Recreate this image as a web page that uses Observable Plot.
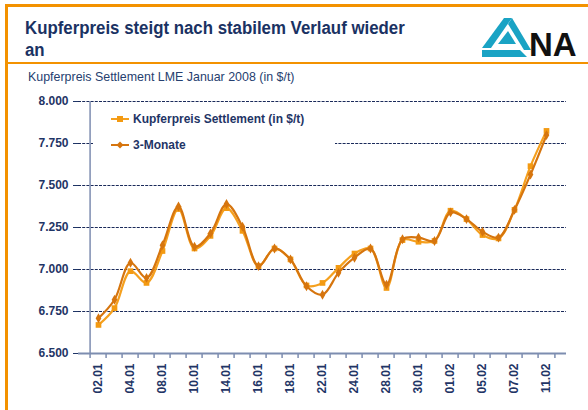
<!DOCTYPE html>
<html>
<head>
<meta charset="utf-8">
<script src="https://cdn.jsdelivr.net/npm/d3@7"></script>
<script src="https://cdn.jsdelivr.net/npm/@observablehq/plot@0.6"></script>
<style>
  html, body { margin: 0; padding: 0; background: #fff; }
  #page { position: relative; width: 588px; height: 410px; overflow: hidden; background: #fff; font-family: "Liberation Sans", Arial, sans-serif; }
  .bar { position: absolute; background: #f39200; }
  #title { position: absolute; left: 25px; top: 17px; font-size: 18px; font-weight: bold; color: #1a3263; line-height: 22px; white-space: nowrap; transform-origin: 0 0; transform: scaleX(0.935); }
  #subtitle { position: absolute; left: 28px; top: 69px; font-size: 13.5px; color: #26406f; white-space: nowrap; transform-origin: 0 0; transform: scaleX(0.92); }
  #chart { position: absolute; left: 0; top: 70px; }
  #legend { position: absolute; left: 93px; top: 108px; width: 242px; height: 50px; background: #fff; }
  .li { position: absolute; left: 18px; height: 14px; display: flex; align-items: center; font-size: 12px; font-weight: bold; color: #1f3566; white-space: nowrap; }
  .li svg { margin-right: 2px; }
  #logo { position: absolute; left: 478px; top: 14px; }
  #logotext { position: absolute; left: 529px; top: 28px; font-size: 33px; line-height: 33px; font-weight: bold; color: #111; white-space: nowrap; }
</style>
</head>
<body>
<div id="page">
  <div class="bar" style="left:5px; top:4px; width:583px; height:3px;"></div>
  <div class="bar" style="left:5px; top:4px; width:3px; height:406px;"></div>
  <div class="bar" style="left:5px; top:62px; width:583px; height:2px;"></div>
  <div id="title">Kupferpreis steigt nach stabilem Verlauf wieder<br>an</div>
  <svg id="logo" width="56" height="46" viewBox="0 0 56 46">
    <polygon points="26,4 34,4 13,34 4,34" fill="#1aa3c4"/>
    <polygon points="4,36 42,36 49,43 4,43" fill="#1aa3c4"/>
    <polygon points="34,4 53,36 46,36 30,10" fill="#1aa3c4"/>
    <polygon points="20,30 30,17 38,30" fill="#1aa3c4"/>
  </svg>
  <div id="logotext">NA</div>
  <div id="subtitle">Kupferpreis Settlement LME Januar 2008 (in $/t)</div>
  <div id="chart"></div>
  <div id="legend">
    <div class="li" style="top:4px;"><svg width="20" height="10"><line x1="0" y1="5" x2="18" y2="5" stroke="#f5a01e" stroke-width="2"/><rect x="6" y="2" width="6" height="6" fill="#f39a12"/></svg>Kupferpreis Settlement (in $/t)</div>
    <div class="li" style="top:30px;"><svg width="20" height="10"><line x1="0" y1="5" x2="18" y2="5" stroke="#d6750e" stroke-width="2"/><polygon points="9,1.5 12.5,5 9,8.5 5.5,5" fill="#d6750e"/></svg>3-Monate</div>
  </div>
</div>
<script>
const dates = ["02.01","03.01","04.01","07.01","08.01","09.01","10.01","11.01","14.01","15.01","16.01","17.01","18.01","21.01","22.01","23.01","24.01","25.01","28.01","29.01","30.01","31.01","01.02","04.02","05.02","06.02","07.02","08.02","11.02"];
const settlement = [6670,6770,6990,6920,7110,7360,7125,7200,7365,7230,7020,7125,7060,6905,6920,7010,7095,7125,6890,7175,7165,7170,7350,7300,7205,7185,7355,7615,7825];
const threeMonths = [6710,6820,7040,6950,7145,7375,7135,7215,7390,7255,7020,7125,7060,6900,6850,6980,7070,7125,6910,7180,7190,7170,7340,7300,7225,7190,7355,7565,7800];
const yTicks = [6500,6750,7000,7250,7500,7750,8000];
const xLabels = dates.filter((d, i) => i % 2 === 0);

const data = dates.map((d, i) => ({date: d, settle: settlement[i], m3: threeMonths[i]}));

const W = 588, H = 340, ML = 78, MR = 22, MT = 31, MB = 57;
const step = (W - ML - MR) / dates.length;
const navy = "#1f3566";
const axisColor = "#7d8db0";
const cSettle = "#f5a01e", cSettleDot = "#f39a12";
const c3M = "#d6750e";

const chart = Plot.plot({
  width: W, height: H,
  marginTop: MT, marginBottom: MB, marginLeft: ML, marginRight: MR,
  style: {fontFamily: "Liberation Sans, Arial, sans-serif", fontSize: "12px", fontWeight: "bold", color: navy, background: "transparent", overflow: "visible"},
  x: {type: "point", domain: dates, padding: 0.5, ticks: xLabels, tickSize: 0, tickPadding: 10, tickRotate: -90, label: null},
  y: {domain: [6500, 8000], ticks: yTicks, tickSize: 5, tickPadding: 5, tickFormat: d => (d / 1000).toFixed(3), label: null},
  marks: [
    Plot.ruleY(yTicks.filter(v => v > 6500), {stroke: "#1a2a5a", strokeWidth: 1, strokeDasharray: "3,1.2"}),
    Plot.ruleX([dates[0]], {dx: -step / 2, stroke: axisColor, strokeWidth: 1.5}),
    Plot.ruleX(dates, {x: d => d, dx: -step / 2, y1: 6500, y2: 6500, insetBottom: -5, stroke: axisColor, strokeWidth: 1.5}),
    Plot.ruleX([dates[dates.length - 1]], {x: d => d, dx: step / 2, y1: 6500, y2: 6500, insetBottom: -5, stroke: axisColor, strokeWidth: 1.5}),
    Plot.ruleY([6500], {stroke: axisColor, strokeWidth: 2}),
    Plot.line(data, {x: "date", y: "settle", curve: "catmull-rom", stroke: cSettle, strokeWidth: 2.2}),
    Plot.dot(data, {x: "date", y: "settle", symbol: "square", r: 3.2, fill: cSettleDot, stroke: null}),
    Plot.line(data, {x: "date", y: "m3", curve: "catmull-rom", stroke: c3M, strokeWidth: 2.2}),
    Plot.dot(data, {x: "date", y: "m3", symbol: "diamond", r: 3, fill: c3M, stroke: null})
  ]
});
document.getElementById("chart").appendChild(chart);
</script>
</body>
</html>
